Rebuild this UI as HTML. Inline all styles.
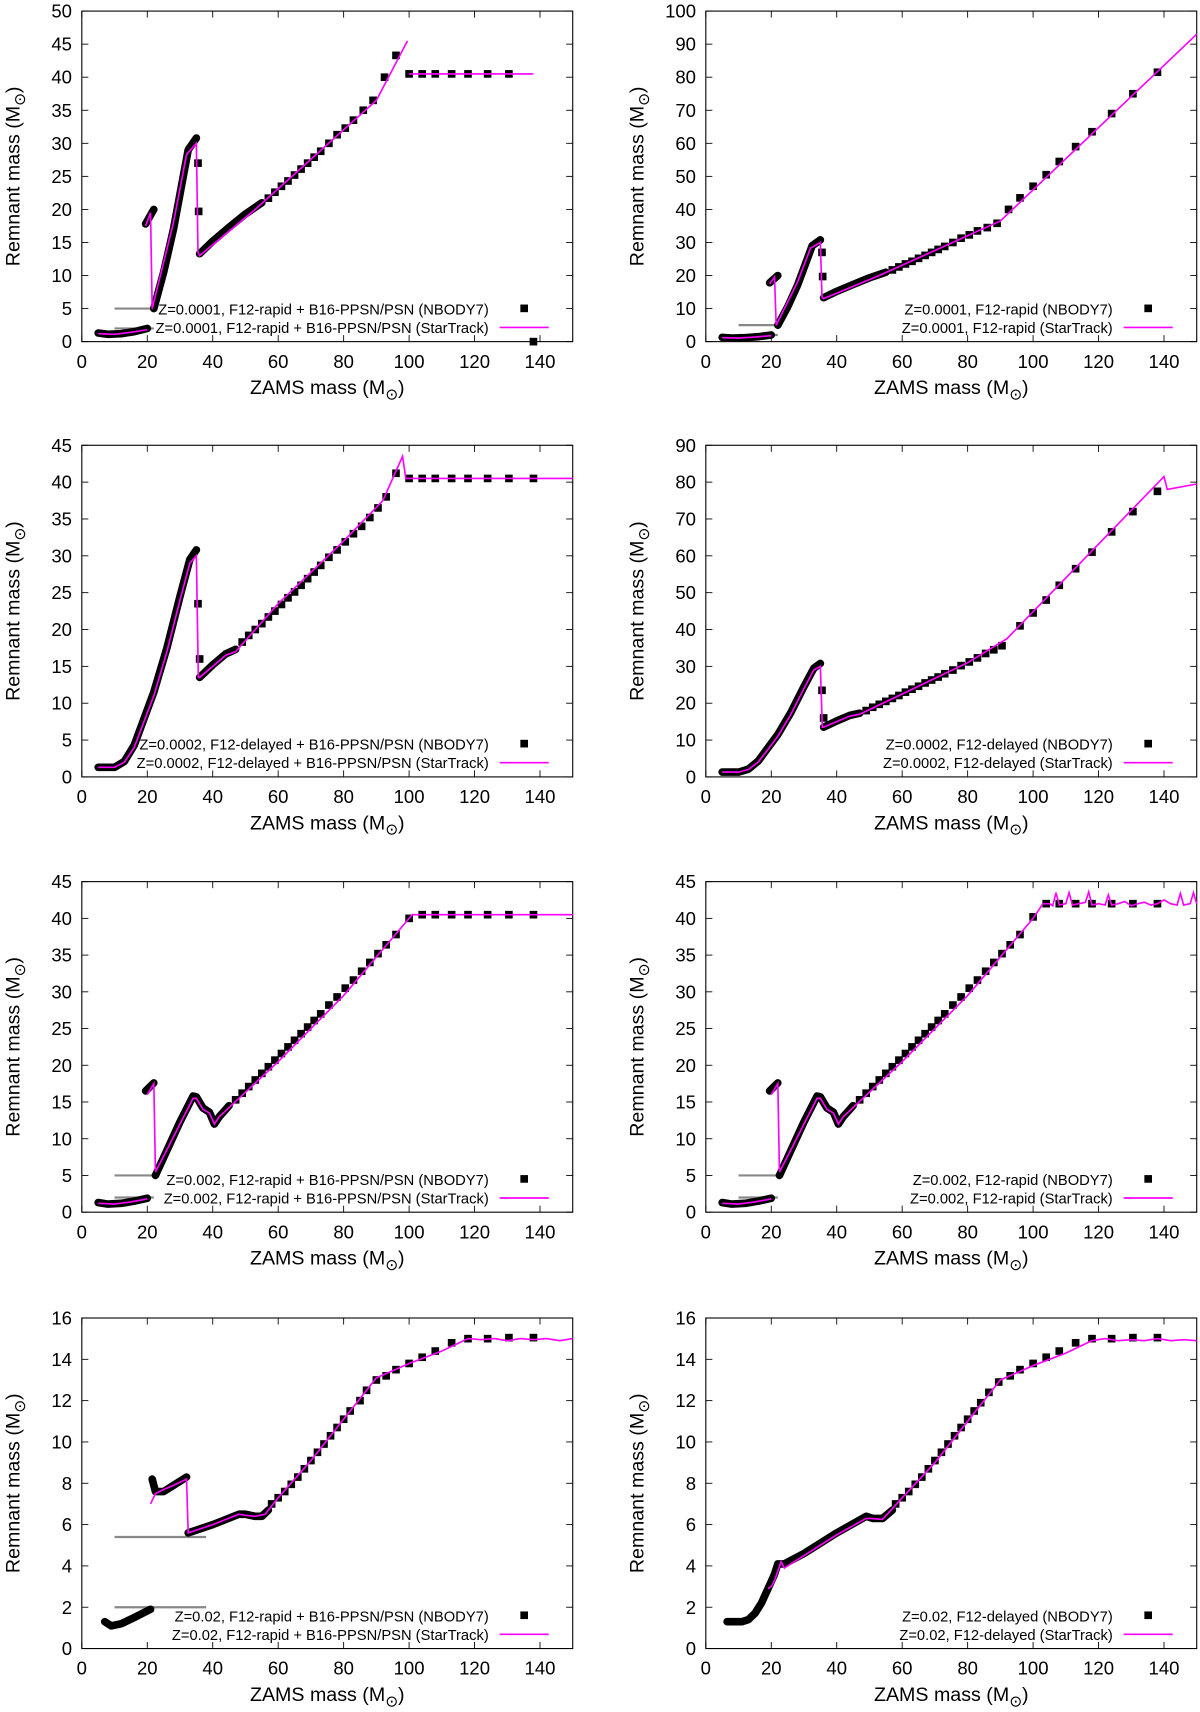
<!DOCTYPE html>
<html><head><meta charset="utf-8"><style>
html,body{margin:0;padding:0;background:#fff;}
svg{display:block;font-family:"Liberation Sans",sans-serif;}
</style></head><body>
<svg id="fig" width="1200" height="1712" viewBox="0 0 1100 1569" xmlns="http://www.w3.org/2000/svg"></svg>
<script>
// ---------- data (x: ZAMS mass, y: remnant mass) ----------
const xTicks = [0,20,40,60,80,100,120,140];
// panel 1
const p1LineX = [5,10,15,20,NaN,19.5,21,21.5,24,28,32,35,35.5,36,53,90,99.5,NaN,100,138];
const p1LineY = [1.2,1.1,1.4,1.8,NaN,17.5,19.5,5,10,18,28.3,30,13.5,13,20,36.5,45.5,NaN,40.5,40.5];
const p1DenseX = [5,8,12,16,20,NaN,19.5,22,NaN,22,25,28,31,32.5,35,NaN,36,40,45,50,55];
const p1DenseY = [1.3,1.1,1.2,1.5,2,NaN,17.8,20,NaN,5,10.5,17,25,29,30.8,NaN,13.3,15.2,17.3,19.3,21];
const p1SqX = [35.5,35.7,57,59,61,63,65,67,69,71,73,75.5,78,80.5,83,86,89,92.5,96,100,104,108,113,118,124,130.5,138];
const p1SqY = [27,19.7,21.7,22.6,23.5,24.3,25.2,26.1,27,27.9,28.8,30,31.3,32.3,33.5,35,36.5,40,43.3,40.5,40.5,40.5,40.5,40.5,40.5,40.5,0];
// panel 2
const p2LineX = [5,10,15,20,NaN,19.5,21,21.5,24,28,32,35,35.5,36,53,90,150];
const p2LineY = [1.2,1.1,1.4,1.8,NaN,17.5,19.5,5,10,18,28.3,30,13.5,13,20,36.5,93];
const p2DenseX = p1DenseX;
const p2DenseY = p1DenseY;
const p2SqX = [35.5,35.7,57,59,61,63,65,67,69,71,73,75.5,78,80.5,83,86,89,92.5,96,100,104,108,113,118,124,130.5,138];
const p2SqY = [27,19.7,21.7,22.6,23.5,24.3,25.2,26.1,27,27.9,28.8,30,31.3,32.3,33.5,34.5,35.8,40,43.5,47,50.5,54.5,59,63.5,69,75,81.5];
// panel 3
const p3LineX = [5,10,13,16,19,22,26,30,33,35,35.6,36,40,44,47,60,80,92,98,99,150];
const p3LineY = [1.3,1.3,2,4,7.5,11,17,24,29,30,13.5,13.5,15,16.5,17,23.5,32,37.5,43.5,40.5,40.5];
const p3DenseX = [5,10,13,16,19,22,26,30,33,35,NaN,36,40,44,47];
const p3DenseY = [1.3,1.3,2.1,4.3,7.9,11.5,17.5,24.5,29.5,30.8,NaN,13.5,15.2,16.7,17.3];
const p3SqX = [35.5,36,49,51,53,55,57,59,61,63,65,67,69,71,73,75.5,78,80.5,83,85.5,88,90.5,93,96,100,104,108,113,118,124,130.5,138];
const p3SqY = [23.5,16,18.3,19.2,20,20.8,21.7,22.5,23.4,24.3,25.1,26,26.9,27.8,28.7,29.8,30.8,31.9,33,34,35.2,36.5,38,41.2,40.5,40.5,40.5,40.5,40.5,40.5,40.5,40.5];
// panel 4
const p4LineX = [5,10,13,16,19,22,26,30,33,35,35.6,36,40,44,47,60,80,92,140,141,150];
const p4LineY = [1.3,1.3,2,4,7.5,11,17,24,29,30,13.5,13.5,15,16.5,17,22.5,31,37.5,81.5,78,79.5];
const p4DenseX = p3DenseX;
const p4DenseY = p3DenseY;
const p4SqX = [35.5,36,49,51,53,55,57,59,61,63,65,67,69,71,73,75.5,78,80.5,83,85.5,88,90.5,96,100,104,108,113,118,124,130.5,138];
const p4SqY = [23.5,16,18,18.9,19.7,20.5,21.3,22.1,23,23.8,24.6,25.5,26.3,27.1,28,29,30.2,31.2,32.3,33.5,34.5,35.6,41,44.5,48,52,56.5,61,66.5,72,77.5];
// panel 5
const p5LineX = [5,10,15,20,NaN,20,22,22.5,26,30,34,35,37,39,40.5,42,60,80,100,101,150];
const p5LineY = [1.2,1.1,1.4,1.8,NaN,16,17.5,5.5,8.5,12,15.5,15.5,14,13.5,12,13,20.5,29.5,40,40.5,40.5];
const p5DenseX = [5,8,12,16,20,NaN,19.5,22,NaN,22.5,26,30,34,35,37,39,40.5,42,45];
const p5DenseY = [1.3,1.1,1.2,1.5,1.9,NaN,16.5,17.6,NaN,5,8.4,12.3,15.8,15.7,14.2,13.6,12,13,14.5];
const p5SqX = [47,49,51,53,55,57,59,61,63,65,67,69,71,73,75.5,78,80.5,83,85.5,88,90.5,93,96,100,104,108,113,118,124,130.5,138];
const p5SqY = [15.3,16.2,17.1,18,18.9,19.8,20.7,21.6,22.5,23.4,24.3,25.2,26.1,27,28.2,29.3,30.5,31.6,32.8,34,35.2,36.4,37.8,40,40.5,40.5,40.5,40.5,40.5,40.5,40.5];
// panel 6
const p6LineX = [5,10,15,20,NaN,20,22,22.5,26,30,34,35,37,39,40.5,42,60,80,100,103,105,106,107,108,110,111,112,114,116,117,118,120,122,123,124,126,128,130,132,134,136,138,140,142,144,145,146,148,149,150];
const p6LineY = [1.2,1.1,1.4,1.8,NaN,16,17.5,5.5,8.5,12,15.5,15.5,14,13.5,12,13,20.5,29.5,40,42,42,41.7,43.5,41.8,42,43.5,41.8,42,42.2,43.6,41.8,42,41.8,43.2,41.8,42,42.3,41.7,42,42.2,41.8,42,42.5,42,41.8,43.4,41.8,42,43.5,42];
const p6DenseX = p5DenseX;
const p6DenseY = p5DenseY;
const p6SqX = [47,49,51,53,55,57,59,61,63,65,67,69,71,73,75.5,78,80.5,83,85.5,88,90.5,93,96,100,104,108,113,118,124,130.5,138];
const p6SqY = [15.3,16.2,17.1,18,18.9,19.8,20.7,21.6,22.5,23.4,24.3,25.2,26.1,27,28.2,29.3,30.5,31.6,32.8,34,35.2,36.4,37.8,40.2,42,42,42,42,42,42,42];
// panel 7
const p7LineX = [21,22.5,25,28,32,32.5,40,48,50,53,56,60,70,80,90,100,110,118,122,126,130,134,138,142,146,150];
const p7LineY = [7,7.5,7.7,7.9,8.2,5.6,6,6.5,6.45,6.4,6.5,7.3,9.1,11.1,13.1,13.8,14.4,15,14.95,15,14.9,15,14.95,15,14.9,15];
const p7DenseX = [7,9,12,16,21,NaN,21.5,22.5,25,28,32,NaN,32.5,40,48,50,53,55,57];
const p7DenseY = [1.3,1.1,1.2,1.5,1.9,NaN,8.2,7.6,7.6,7.9,8.3,NaN,5.6,6,6.5,6.5,6.4,6.4,6.7];
const p7SqX = [58,60,62,64,66,68,70,72,74,76,78,80,82,85,87,90,93,96,100,104,108,113,118,124,130.5,138];
const p7SqY = [7,7.3,7.6,7.95,8.3,8.7,9.1,9.5,9.9,10.3,10.7,11.1,11.5,12,12.5,13,13.2,13.5,13.8,14.1,14.4,14.8,15,15,15.05,15.05];
// panel 8
const p8LineX = [19,20,21,23,24,30,40,49,50,54,60,70,80,90,100,110,118,122,126,130,134,138,142,146,150];
const p8LineY = [2.9,3,3.3,4.2,3.9,4.5,5.5,6.3,6.3,6.25,7.3,9,11,13,13.7,14.3,14.9,15,14.9,14.95,14.9,15,14.9,14.95,14.9];
const p8DenseX = [6.5,11,13,15,17,19,21,22,24,30,40,49,51,54,57];
const p8DenseY = [1.3,1.3,1.4,1.7,2.2,2.9,3.6,4.1,4.1,4.6,5.6,6.4,6.3,6.3,6.7];
const p8SqX = [58,60,62,64,66,68,70,72,74,76,78,80,82,84,86.5,89.5,93,96,100,104,108,113,118,124,130.5,138];
const p8SqY = [7,7.3,7.6,7.95,8.3,8.7,9.1,9.5,9.9,10.3,10.7,11.1,11.5,11.9,12.4,12.9,13.2,13.5,13.8,14.1,14.4,14.8,15,15,15.05,15.05];

const panels = [
 {id:1,ox:75,oy:313,h:303,ymax:50,ystep:5,lx:p1LineX,ly:p1LineY,dx:p1DenseX,dy:p1DenseY,sx:p1SqX,sy:p1SqY,grey:[[10,22,5],[10,22,2]],
  l1:"Z=0.0001, F12-rapid + B16-PPSN/PSN (NBODY7)",l2:"Z=0.0001, F12-rapid + B16-PPSN/PSN (StarTrack)"},
 {id:2,ox:647,oy:313,h:303,ymax:100,ystep:10,lx:p2LineX,ly:p2LineY,dx:p2DenseX,dy:p2DenseY,sx:p2SqX,sy:p2SqY,grey:[[10,22,5],[10,22,2]],
  l1:"Z=0.0001, F12-rapid (NBODY7)",l2:"Z=0.0001, F12-rapid (StarTrack)"},
 {id:3,ox:75,oy:712,h:304,ymax:45,ystep:5,lx:p3LineX,ly:p3LineY,dx:p3DenseX,dy:p3DenseY,sx:p3SqX,sy:p3SqY,grey:[],
  l1:"Z=0.0002, F12-delayed + B16-PPSN/PSN (NBODY7)",l2:"Z=0.0002, F12-delayed + B16-PPSN/PSN (StarTrack)"},
 {id:4,ox:647,oy:712,h:304,ymax:90,ystep:10,lx:p4LineX,ly:p4LineY,dx:p4DenseX,dy:p4DenseY,sx:p4SqX,sy:p4SqY,grey:[],
  l1:"Z=0.0002, F12-delayed (NBODY7)",l2:"Z=0.0002, F12-delayed (StarTrack)"},
 {id:5,ox:75,oy:1111,h:303,ymax:45,ystep:5,lx:p5LineX,ly:p5LineY,dx:p5DenseX,dy:p5DenseY,sx:p5SqX,sy:p5SqY,grey:[[10,22,5],[10,22,2]],
  l1:"Z=0.002, F12-rapid + B16-PPSN/PSN (NBODY7)",l2:"Z=0.002, F12-rapid + B16-PPSN/PSN (StarTrack)"},
 {id:6,ox:647,oy:1111,h:303,ymax:45,ystep:5,lx:p6LineX,ly:p6LineY,dx:p6DenseX,dy:p6DenseY,sx:p6SqX,sy:p6SqY,grey:[[10,22,5],[10,22,2]],
  l1:"Z=0.002, F12-rapid (NBODY7)",l2:"Z=0.002, F12-rapid (StarTrack)"},
 {id:7,ox:75,oy:1511,h:303,ymax:16,ystep:2,lx:p7LineX,ly:p7LineY,dx:p7DenseX,dy:p7DenseY,sx:p7SqX,sy:p7SqY,grey:[[10,38,5.4],[10,38,2]],
  l1:"Z=0.02, F12-rapid + B16-PPSN/PSN (NBODY7)",l2:"Z=0.02, F12-rapid + B16-PPSN/PSN (StarTrack)"},
 {id:8,ox:647,oy:1511,h:303,ymax:16,ystep:2,lx:p8LineX,ly:p8LineY,dx:p8DenseX,dy:p8DenseY,sx:p8SqX,sy:p8SqY,grey:[],
  l1:"Z=0.02, F12-delayed (NBODY7)",l2:"Z=0.02, F12-delayed (StarTrack)"}
];

const NS="http://www.w3.org/2000/svg";
const svg=document.getElementById('fig');
function mk(tag,attrs,parent){const e=document.createElementNS(NS,tag);for(const k in attrs)e.setAttribute(k,attrs[k]);(parent||svg).appendChild(e);return e;}
function pathFrom(xs,ys,sx,sy){let d="",pen=false;for(let i=0;i<xs.length;i++){if(isNaN(xs[i])){pen=false;continue;}d+=(pen?"L":"M")+sx(xs[i]).toFixed(1)+" "+sy(ys[i]).toFixed(1);pen=true;}return d;}

panels.forEach(p=>{
  const W=450;
  const g=mk('g',{});
  
  
  const sx=v=>p.ox+v*W/150;
  const sy=v=>p.oy-v*p.h/p.ymax;
  for(let v=0;v<=p.ymax+1e-9;v+=p.ystep){
    const y=sy(v);
    mk('line',{x1:p.ox,y1:y,x2:p.ox+6,y2:y,stroke:'#000','stroke-width':0.8},g);
    mk('line',{x1:p.ox+W,y1:y,x2:p.ox+W-6,y2:y,stroke:'#000','stroke-width':0.8},g);
    const t=mk('text',{x:p.ox-9,y:y+6,'text-anchor':'end','font-size':17},g);
    t.textContent=String(v);
    
    
  }
  xTicks.forEach(v=>{
    const x=sx(v);
    mk('line',{x1:x,y1:p.oy,x2:x,y2:p.oy-6,stroke:'#000','stroke-width':0.8},g);
    mk('line',{x1:x,y1:p.oy-p.h,x2:x,y2:p.oy-p.h+6,stroke:'#000','stroke-width':0.8},g);
    const t=mk('text',{x:x,y:p.oy+24,'text-anchor':'middle','font-size':17},g);
    t.textContent=String(v);
    
    
  });
  const b=mk('rect',{x:p.ox,y:p.oy-p.h,width:W,height:p.h,fill:'none',stroke:'#000','stroke-width':1},g);
  
  
  const xt=mk('text',{x:p.ox+W/2,y:p.oy+48,'text-anchor':'middle','font-size':18},g);
  xt.innerHTML='ZAMS mass (M<tspan font-size="14" dy="5">⊙</tspan><tspan dy="-5">)</tspan>';
  
  
  const cy=p.oy-p.h/2, cx=p.ox-57;
  const yt=mk('text',{x:cx,y:cy,'text-anchor':'middle','font-size':18,transform:`rotate(-90 ${cx} ${cy})`},g);
  yt.innerHTML='Remnant mass (M<tspan font-size="14" dy="5">⊙</tspan><tspan dy="-5">)</tspan>';
  
  
  p.grey.forEach(gl=>{
    const l=mk('line',{x1:sx(gl[0]),x2:sx(gl[1]),y1:sy(gl[2]),y2:sy(gl[2]),stroke:'#888','stroke-width':2},g);
    
    
  });
  const dp=mk('path',{d:pathFrom(p.dx,p.dy,sx,sy),fill:'none',stroke:'#000','stroke-width':7,'stroke-linejoin':'round','stroke-linecap':'round'},g);
  
  
  for(let i=0;i<p.sx.length;i++){
    const r=mk('rect',{x:sx(p.sx[i])-3.5,y:sy(p.sy[i])-3.5,width:7,height:7,fill:'#000'},g);
    
    
  }
  const lp=mk('path',{d:pathFrom(p.lx,p.ly,sx,sy),fill:'none',stroke:'#ff00ff','stroke-width':1.5},g);
  
  
  const lg=mk('g',{},g);
  
  
  const t1=mk('text',{x:p.ox+373,y:p.oy-25,'text-anchor':'end','font-size':13.5},lg);
  t1.textContent=p.l1;
  
  
  const t2=mk('text',{x:p.ox+373,y:p.oy-8,'text-anchor':'end','font-size':13.5},lg);
  t2.textContent=p.l2;
  
  
  const ls=mk('rect',{x:p.ox+402,y:p.oy-34,width:7,height:7,fill:'#000'},lg);
  
  
  const ll=mk('line',{x1:p.ox+383,x2:p.ox+428,y1:p.oy-13,y2:p.oy-13,stroke:'#ff00ff','stroke-width':1.5},lg);
  
  
});
</script>
</body></html>
